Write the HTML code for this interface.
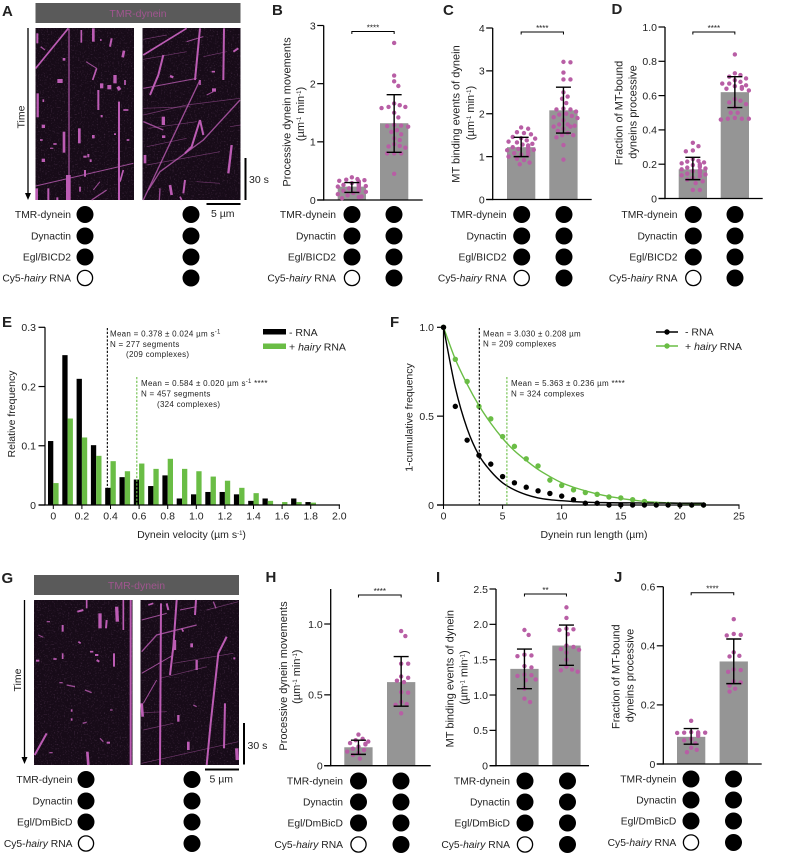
<!DOCTYPE html>
<html lang="en">
<head>
<meta charset="utf-8">
<title>Dynein motility figure</title>
<style>
html,body{margin:0;padding:0;background:#fff;width:799px;height:853px;overflow:hidden}
svg{display:block;font-family:"Liberation Sans",Arial,sans-serif;fill:#222}
text{fill:#222}
</style>
</head>
<body>
<svg id="fig" xmlns="http://www.w3.org/2000/svg" width="799" height="853" viewBox="0 0 799 853">
  <defs>
    <filter id="speck" x="0" y="0" width="100%" height="100%">
      <feTurbulence type="fractalNoise" baseFrequency="0.7" numOctaves="1" seed="4"/>
      <feColorMatrix type="matrix" values="0 0 0 0 0.45  0 0 0 0 0.2  0 0 0 0 0.45  0 0 0 0.9 -0.5"/>
    </filter>
    <filter id="soft" x="-2%" y="-2%" width="104%" height="104%">
      <feGaussianBlur stdDeviation="1.1"/>
    </filter>
  </defs>
  <g font-size="15" font-weight="bold">
    <text x="2" y="16">A</text>
    <text x="272" y="15">B</text>
    <text x="443" y="15">C</text>
    <text x="611.5" y="14">D</text>
    <text x="2" y="327">E</text>
    <text x="390" y="327">F</text>
    <text x="1.5" y="583">G</text>
    <text x="265.5" y="582">H</text>
    <text x="436" y="582">I</text>
    <text x="614" y="582">J</text>
  </g>

  <g>
    <rect x="35.5" y="3" width="205" height="20" fill="#5a5a5a"/>
    <text x="138" y="17" font-size="10.5" text-anchor="middle" style="fill:#a0558f">TMR-dynein</text>
    <rect x="35.5" y="28" width="98.5" height="172" fill="#170b18"/>
    <rect x="142.5" y="28" width="98" height="172" fill="#170b18"/>
    <rect x="35.5" y="28" width="98.5" height="172" filter="url(#speck)"/>
    <rect x="142.5" y="28" width="98" height="172" filter="url(#speck)"/>
    <g id="kymoA" transform="scale(0.33333)" filter="url(#soft)"></g>
    <line x1="28" y1="28" x2="28" y2="194" stroke="#000" stroke-width="1.3"/>
    <path d="M25 193h6l-3 7z" fill="#000"/>
    <text transform="translate(24.5,117) rotate(-90)" font-size="10.5" text-anchor="middle">Time</text>
    <line x1="245.5" y1="158" x2="245.5" y2="200" stroke="#000" stroke-width="2"/>
    <text x="249" y="183" font-size="10.5">30 s</text>
    <line x1="206.5" y1="204" x2="240.5" y2="204" stroke="#000" stroke-width="2"/>
    <text x="211" y="217" font-size="10.5">5 µm</text>
  </g>

  <g>
    <rect x="34" y="575" width="205" height="20" fill="#5a5a5a"/>
    <text x="136.5" y="589" font-size="10.5" text-anchor="middle" style="fill:#a0558f">TMR-dynein</text>
    <rect x="34" y="600" width="98.5" height="165" fill="#170b18"/>
    <rect x="140.5" y="600" width="98.5" height="165" fill="#170b18"/>
    <rect x="34" y="600" width="98.5" height="165" filter="url(#speck)"/>
    <rect x="140.5" y="600" width="98.5" height="165" filter="url(#speck)"/>
    <g id="kymoG" transform="translate(0,560) scale(0.33333)" filter="url(#soft)"></g>
    <line x1="24.5" y1="600" x2="24.5" y2="758" stroke="#000" stroke-width="1.3"/>
    <path d="M21.5 757h6l-3 7z" fill="#000"/>
    <text transform="translate(21,680) rotate(-90)" font-size="10.5" text-anchor="middle">Time</text>
    <line x1="244" y1="723" x2="244" y2="764.5" stroke="#000" stroke-width="2"/>
    <text x="247.5" y="749" font-size="10.5">30 s</text>
    <line x1="205" y1="769.5" x2="239" y2="769.5" stroke="#000" stroke-width="2"/>
    <text x="209.5" y="782.5" font-size="10.5">5 µm</text>
  </g>
  <g id="charts"></g>
</svg>

<script>
// ---- Panel B data ----
const bTicks = [0, 1, 2, 3];
const bMeans = [0.23, 1.32];
const bErrLow = [0.13, 0.82];
const bErrHigh = [0.30, 1.81];
const bDotsNoRna = [0.39,0.36,0.35,0.34,0.33,0.32,0.31,0.30,0.29,0.28,0.27,0.26,0.25,0.24,0.23,0.22,0.21,0.20,0.20,0.18,0.17,0.16,0.15,0.14,0.12,0.10,0.08,0.06,0.05,0.03];
const bDotsRna = [2.70,2.14,2.04,1.96,1.66,1.63,1.60,1.60,1.58,1.50,1.42,1.29,1.28,1.27,1.26,1.20,1.17,1.13,1.06,1.03,0.96,0.93,0.92,0.90,0.80,0.80,0.80,0.45];
const bSig = "****";
// ---- Panel C data ----
const cTicks = [0, 1, 2, 3, 4];
const cMeans = [1.22, 2.08];
const cErrLow = [1.00, 1.55];
const cErrHigh = [1.45, 2.62];
const cDotsNoRna = [1.68,1.65,1.57,1.55,1.52,1.46,1.43,1.42,1.38,1.35,1.33,1.30,1.28,1.26,1.25,1.22,1.20,1.20,1.18,1.16,1.15,1.12,1.10,1.08,1.05,1.03,1.00,0.95,0.92,0.86,0.82];
const cDotsRna = [3.21,3.20,2.96,2.80,2.80,2.50,2.40,2.35,2.25,2.12,2.10,2.10,2.05,2.00,1.98,1.95,1.92,1.90,1.85,1.75,1.75,1.72,1.70,1.70,1.65,1.60,1.55,1.50,1.50,1.45,1.27,0.93];
const cSig = "****";
// ---- Panel D data ----
const dTicks = [0, 0.2, 0.4, 0.6, 0.8, 1.0];
const dMeans = [0.17, 0.62];
const dErrLow = [0.11, 0.53];
const dErrHigh = [0.24, 0.71];
const dDotsNoRna = [0.325,0.305,0.28,0.275,0.23,0.22,0.215,0.21,0.205,0.20,0.195,0.19,0.185,0.18,0.175,0.17,0.165,0.16,0.155,0.15,0.145,0.14,0.135,0.13,0.12,0.11,0.10,0.09,0.05,0.05];
const dDotsRna = [0.84,0.73,0.72,0.71,0.70,0.69,0.68,0.67,0.67,0.66,0.655,0.65,0.64,0.64,0.63,0.58,0.57,0.56,0.55,0.53,0.50,0.50,0.47,0.465,0.465,0.465,0.46];
const dSig = "****";
// ---- Panel H data ----
const hTicks = [0, 0.5, 1.0];
const hMeans = [0.13, 0.59];
const hErrLow = [0.08, 0.42];
const hErrHigh = [0.18, 0.77];
const hDotsNoRna = [0.22,0.19,0.18,0.17,0.16,0.155,0.15,0.135,0.12,0.11,0.10,0.09,0.075,0.05];
const hDotsRna = [0.95,0.915,0.72,0.72,0.63,0.62,0.60,0.59,0.52,0.515,0.45,0.435,0.43,0.37];
const hSig = "****";
// ---- Panel I data ----
const iTicks = [0, 0.5, 1.0, 1.5, 2.0, 2.5];
const iMeans = [1.37, 1.70];
const iErrLow = [1.09, 1.42];
const iErrHigh = [1.65, 1.99];
const iDotsNoRna = [1.92,1.85,1.57,1.56,1.55,1.41,1.39,1.29,1.28,1.27,1.22,1.21,1.09,0.95,0.90];
const iDotsRna = [2.24,2.09,1.94,1.93,1.92,1.86,1.70,1.68,1.65,1.64,1.60,1.50,1.40,1.36,1.35,1.33];
const iSig = "**";
// ---- Panel J data ----
const jTicks = [0, 0.2, 0.4, 0.6];
const jMeans = [0.092, 0.347];
const jErrLow = [0.067, 0.272];
const jErrHigh = [0.12, 0.423];
const jDotsNoRna = [0.146,0.108,0.107,0.106,0.106,0.105,0.104,0.10,0.095,0.085,0.08,0.07,0.055,0.048,0.04];
const jDotsRna = [0.49,0.44,0.437,0.435,0.378,0.366,0.364,0.32,0.318,0.312,0.28,0.276,0.265,0.255,0.245];
const jSig = "****";
// ---- Panel E data ----
const eBins = [0,0.1,0.2,0.3,0.4,0.5,0.6,0.7,0.8,0.9,1.0,1.1,1.2,1.3,1.4,1.5,1.6,1.7,1.8,1.9];
const eNoRna = [0.108,0.253,0.213,0.101,0.029,0.047,0.043,0.032,0.050,0.011,0.018,0.022,0.022,0.018,0.007,0.011,0,0.011,0.005,0];
const eHairyRna = [0.037,0.146,0.114,0.083,0.074,0.057,0.070,0.061,0.078,0.061,0.057,0.048,0.041,0.029,0.020,0.007,0.005,0.005,0.004,0];
const eXTicks = [0,0.2,0.4,0.6,0.8,1.0,1.2,1.4,1.6,1.8,2.0];
const eXTickLabels = ["0","0.2","0.4","0.6","0.8","1.0","1.2","1.4","1.6","1.8","2.0"];
const eYTicks = [0,0.1,0.2,0.3];
const eYTickLabels = ["0","0.1","0.2","0.3"];
const eMeans = [0.378, 0.584];
// ---- Panel F data ----
const fLengths = [0,1,2,3,4,5,6,7,8,9,10,11,12,13,14,15,16,17,18,19,20,21,22];
const fNoRna = [1,0.555,0.365,0.28,0.23,0.16,0.125,0.10,0.08,0.065,0.05,0.03,0.01,0.01,0,0,0,0,0,0,0,0,0];
const fHairyRna = [1,0.82,0.695,0.555,0.485,0.385,0.33,0.26,0.22,0.14,0.11,0.085,0.07,0.06,0.045,0.04,0.03,0.02,0.005,0.003,0,0,0];
const fFitNoRna = [1,0.66,0.43,0.28,0.19,0.125,0.085,0.058,0.04,0.03,0.024,0.019,0.016,0.014,0.013,0.012,0.012,0.011,0.011,0.011,0.01,0.01,0.01];
const fFitHairyRna = [1,0.82,0.68,0.56,0.46,0.375,0.305,0.25,0.2,0.16,0.125,0.1,0.08,0.062,0.048,0.037,0.028,0.02,0.015,0.012,0.009,0.007,0.006];
const fXTicks = [0,5,10,15,20,25];
const fYTicks = [0,0.5,1.0];
const fYTickLabels = ["0","0.5","1.0"];
const fMeans = [3.03, 5.363];

const NS = "http://www.w3.org/2000/svg";
const chartsRoot = document.getElementById("charts");
const DOT = "#b85ea5", BAR = "#959595", GREEN = "#6abd45";

function mk(tag, attrs, parent) {
  const e = document.createElementNS(NS, tag);
  for (const k in attrs) e.setAttribute(k, attrs[k]);
  parent.appendChild(e);
  return e;
}
function label(parent, x, y, str, size, anchor, extra) {
  const t = mk("text", Object.assign({x: x, y: y, "font-size": size, "text-anchor": anchor || "start"}, extra || {}), parent);
  t.innerHTML = str;
  return t;
}
const SUP = function (s) { return '<tspan dy="-3" font-size="6">' + s + '</tspan><tspan dy="3">\u200b</tspan>'; };
const CY5 = 'Cy5-<tspan font-style="italic">hairy</tspan> RNA';

// Place values on a beeswarm: offsets only come from the value order and collision test.
function swarm(values, yFn, spacing) {
  const placed = [];
  values.slice().sort(function (a, b) { return b - a; }).forEach(function (v) {
    const y = yFn(v);
    let off = 0;
    for (let i = 0; i < 60; i++) {
      off = (i % 2 ? 1 : -1) * Math.ceil(i / 2) * 1.4;
      if (Math.abs(off) > 14) { off = (i % 2 ? 1 : -1) * (i % 14); break; }
      const clash = placed.some(function (p) { return Math.hypot(p.off - off, p.y - y) < spacing; });
      if (!clash) break;
    }
    placed.push({off: off, y: y});
  });
  return placed;
}

function conditionRows(parent, cfg) {
  const g = mk("g", {}, parent);
  
  
  const names = ["TMR-dynein", "Dynactin", cfg.adaptor, CY5];
  names.forEach(function (n, r) {
    const y = cfg.rows[r];
    const t = label(g, cfg.right, y + 3.6, n, 10.3, "end");
    
    
    cfg.xs.forEach(function (cx, c) {
      const open = r === 3 && c === 0;
      const circle = mk("circle", {cx: cx, cy: y, r: open ? 7.6 : 8.5, fill: open ? "#fff" : "#000", stroke: "#000", "stroke-width": open ? 1.3 : 0}, g);
      
      
    });
  });
}

function barPanel(cfg) {
  const g = mk("g", {}, chartsRoot);
  
  
  const y = function (v) { return cfg.y0 - (v / cfg.yMax) * (cfg.y0 - cfg.yTop); };
  // axes
  const yAxis = mk("line", {x1: cfg.axisX, x2: cfg.axisX, y1: cfg.axisTop !== undefined ? cfg.axisTop : cfg.yTop, y2: cfg.y0 + 0.6, stroke: "#000", "stroke-width": 1.3}, g);
  
  
  cfg.ticks.forEach(function (v) {
    const tick = mk("line", {x1: cfg.axisX - 6.5, x2: cfg.axisX, y1: y(v), y2: y(v), stroke: "#000", "stroke-width": 1.2}, g);
    
    
    const txt = v === 0 ? "0" : (cfg.decimals ? v.toFixed(cfg.decimals) : String(v));
    const tl = label(g, cfg.axisX - 8, y(v) + 3.8, txt, 10.5, "end");
    
    
  });
  // bars
  cfg.means.forEach(function (m, i) {
    const bar = mk("rect", {x: cfg.barX[i], y: y(m), width: 28.3, height: cfg.y0 - y(m), fill: BAR}, g);
    
    
  });
  const xAxis = mk("line", {x1: cfg.axisX - 6.5, x2: cfg.axisEnd, y1: cfg.y0, y2: cfg.y0, stroke: "#000", "stroke-width": 1.3}, g);
  
  
  // dots
  [cfg.dots0, cfg.dots1].forEach(function (vals, i) {
    const cx = cfg.barX[i] + 14.15;
    swarm(vals, y, cfg.spacing || 5.8).forEach(function (p) {
      const dot = mk("circle", {cx: cx + p.off, cy: p.y, r: 2.2, fill: DOT}, g);
      
      
    });
  });
  // error bars
  cfg.means.forEach(function (m, i) {
    const cx = cfg.barX[i] + 14.15;
    const path = "M" + (cx - 7.5) + " " + y(cfg.high[i]) + "h15M" + cx + " " + y(cfg.high[i]) + "V" + y(cfg.low[i]) + "M" + (cx - 7.5) + " " + y(cfg.low[i]) + "h15";
    const err = mk("path", {d: path, fill: "none", stroke: "#000", "stroke-width": 1.4}, g);
    
    
  });
  // significance bracket
  const b0 = cfg.barX[0] + 14.15, b1 = cfg.barX[1] + 14.15;
  const br = mk("path", {d: "M" + b0 + " " + (cfg.brY + 2.5) + "V" + cfg.brY + "H" + b1 + "V" + (cfg.brY + 2.5), fill: "none", stroke: "#000", "stroke-width": 1}, g);
  
  
  const st = label(g, (b0 + b1) / 2, cfg.brY - 1.2, cfg.sig, 8, "middle");
  
  
  // titles
  cfg.titles.forEach(function (t) {
    const a = label(g, 0, 0, t[3], 11, "middle", {transform: "translate(" + t[0] + "," + t[1] + ") rotate(-90)"});
    
    
  });
  conditionRows(g, cfg.cond);
}

const rowsTop = [214.5, 236, 257, 278];
const unitsLine = '(µm' + SUP('-1') + ' min' + SUP('-1') + ')';

barPanel({name: "panel-b-processive-movements", axisX: 323.7, axisEnd: 422.7, y0: 200, yTop: 25.5, yMax: 3, ticks: bTicks, barX: [337.7, 380], means: bMeans, low: bErrLow, high: bErrHigh, dots0: bDotsNoRna, dots1: bDotsRna, brY: 31.5, sig: bSig,
  titles: [[290.5, 112, "y-axis-title", "Processive dynein movements"], [304, 114, "y-axis-units", unitsLine]],
  cond: {adaptor: "Egl/BICD2", rows: rowsTop, right: 336, xs: [352, 394]}});
barPanel({name: "panel-c-binding-events", axisX: 492.7, axisEnd: 591.7, y0: 199.5, yTop: 28, yMax: 4, ticks: cTicks, barX: [507, 549.3], means: cMeans, low: cErrLow, high: cErrHigh, dots0: cDotsNoRna, dots1: cDotsRna, brY: 32, sig: cSig,
  titles: [[459.5, 114, "y-axis-title", "MT binding events of dynein"], [474, 113, "y-axis-units", unitsLine]],
  cond: {adaptor: "Egl/BICD2", rows: rowsTop, right: 506.6, xs: [521.7, 564]}});
barPanel({name: "panel-d-fraction-processive", axisX: 665, axisEnd: 762.7, y0: 198.5, yTop: 27, yMax: 1, ticks: dTicks, decimals: 1, barX: [678.7, 720.7], means: dMeans, low: dErrLow, high: dErrHigh, dots0: dDotsNoRna, dots1: dDotsRna, brY: 32, sig: dSig,
  titles: [[622.3, 113, "y-axis-title", "Fraction of MT-bound"], [636.7, 112, "y-axis-title-line-2", "dyneins processive"]],
  cond: {adaptor: "Egl/BICD2", rows: rowsTop, right: 677.5, xs: [693.3, 735]}});
barPanel({name: "panel-h-processive-movements", axisX: 330.7, axisTop: 589, axisEnd: 430.7, y0: 765.7, yTop: 624, yMax: 1, ticks: hTicks, decimals: 1, barX: [344.3, 387], means: hMeans, low: hErrLow, high: hErrHigh, dots0: hDotsNoRna, dots1: hDotsRna, brY: 595, sig: hSig,
  titles: [[287, 676, "y-axis-title", "Processive dynein movements"], [300, 676.7, "y-axis-units", unitsLine]],
  cond: {adaptor: "Egl/DmBicD", rows: [781, 802, 823, 844.5], right: 343, xs: [358.5, 401]}});
barPanel({name: "panel-i-binding-events", axisX: 496, axisEnd: 589, y0: 765.7, yTop: 589, yMax: 2.5, ticks: iTicks, decimals: 1, barX: [510.3, 552.3], means: iMeans, low: iErrLow, high: iErrHigh, dots0: iDotsNoRna, dots1: iDotsRna, brY: 594, sig: iSig,
  titles: [[453.7, 678.7, "y-axis-title", "MT binding events of dynein"], [467.3, 677.5, "y-axis-units", unitsLine]],
  cond: {adaptor: "Egl/DmBicD", rows: [781, 802, 823, 844.5], right: 510, xs: [525, 567.5]}});
barPanel({name: "panel-j-fraction-processive", axisX: 663.3, axisEnd: 761.7, y0: 764, yTop: 586.7, yMax: 0.6, ticks: jTicks, decimals: 1, barX: [677, 719.6], means: jMeans, low: jErrLow, high: jErrHigh, dots0: jDotsNoRna, dots1: jDotsRna, brY: 592.7, sig: jSig,
  titles: [[619.7, 676.7, "y-axis-title", "Fraction of MT-bound"], [633.3, 675.5, "y-axis-title-line-2", "dyneins processive"]],
  cond: {adaptor: "Egl/DmBicD", rows: [779, 800, 821, 842.5], right: 676.3, xs: [691, 733.5]}});
conditionRows(chartsRoot, {adaptor: "Egl/BICD2", rows: rowsTop, right: 71, xs: [85, 191]});
conditionRows(chartsRoot, {adaptor: "Egl/DmBicD", rows: [779.5, 801, 822, 843.5], right: 72.5, xs: [86, 192]});

// ---- Panel E ----
(function () {
  const g = mk("g", {}, chartsRoot);
  
  
  const x = function (v) { return 53.3 + v * 143; };
  const y = function (v) { return 505 - (v / 0.3) * 177.7; };
  eBins.forEach(function (b, i) {
    const black = mk("rect", {x: x(b) - 5.3, y: y(eNoRna[i]), width: 5.3, height: 505 - y(eNoRna[i]), fill: "#000"}, g);
    
    
    const green = mk("rect", {x: x(b), y: y(eHairyRna[i]), width: 5.3, height: 505 - y(eHairyRna[i]), fill: GREEN}, g);
    
    
  });
  const ya = mk("line", {x1: 45, x2: 45, y1: 327.3, y2: 505, stroke: "#000", "stroke-width": 1.2}, g);
  
  
  const xa = mk("line", {x1: 38.5, x2: 340, y1: 505, y2: 505, stroke: "#000", "stroke-width": 1.2}, g);
  
  
  eYTicks.forEach(function (v, i) {
    const t = mk("line", {x1: 38.5, x2: 45, y1: y(v), y2: y(v), stroke: "#000", "stroke-width": 1.2}, g);
    
    
    const l = label(g, 36, y(v) + 3.8, eYTickLabels[i], 10.5, "end");
    
    
  });
  eXTicks.forEach(function (v, i) {
    const t = mk("line", {x1: x(v), x2: x(v), y1: 505, y2: 509, stroke: "#000", "stroke-width": 1}, g);
    
    
    const l = label(g, x(v), 519.5, eXTickLabels[i], 10.5, "middle");
    
    
  });
  const yt = label(g, 0, 0, "Relative frequency", 10.5, "middle", {transform: "translate(15,414) rotate(-90)"});
  
  
  const xt = label(g, 191.5, 538, "Dynein velocity (µm s" + SUP("-1") + ")", 10.5, "middle");
  
  
  const m0 = mk("line", {x1: x(eMeans[0]), x2: x(eMeans[0]), y1: 328, y2: 505, stroke: "#000", "stroke-width": 1.1, "stroke-dasharray": "2.2 1.6"}, g);
  
  
  const m1 = mk("line", {x1: x(eMeans[1]), x2: x(eMeans[1]), y1: 377, y2: 505, stroke: GREEN, "stroke-width": 1.1, "stroke-dasharray": "2.2 1.6"}, g);
  
  
  const notes = [
    [110, 336.5, "Mean = 0.378 ± 0.024 µm s" + SUP("-1")],
    [110, 347, "N = 277 segments"],
    [126, 357, "(209 complexes)"],
    [141, 386, "Mean = 0.584 ± 0.020 µm s" + SUP("-1") + " ****"],
    [141, 396.5, "N = 457 segments"],
    [157, 407, "(324 complexes)"]
  ];
  notes.forEach(function (n) {
    const t = label(g, n[0], n[1], n[2], 8, "start", {"letter-spacing": "0.28"});
    
    
  });
  const k0 = mk("rect", {x: 263, y: 329, width: 23, height: 5.5, fill: "#000"}, g);
  
  
  const k1 = mk("rect", {x: 263, y: 343.5, width: 23, height: 5.5, fill: GREEN}, g);
  
  
  const lt0 = label(g, 289, 336, "- RNA", 10.5);
  
  
  const lt1 = label(g, 289, 350.5, '+ <tspan font-style="italic">hairy</tspan> RNA', 10.5);
  
  
})();

// ---- Panel F ----
(function () {
  const g = mk("g", {}, chartsRoot);
  
  
  const x = function (v) { return 443.5 + v * 11.82; };
  const y = function (v) { return 505 - v * 177.7; };
  function smooth(vals) {
    const pts = fLengths.map(function (l, i) { return [x(l), y(vals[i])]; });
    let d = "M" + pts[0][0] + " " + pts[0][1];
    for (let i = 0; i < pts.length - 1; i++) {
      const p0 = pts[Math.max(0, i - 1)], p1 = pts[i], p2 = pts[i + 1], p3 = pts[Math.min(pts.length - 1, i + 2)];
      d += "C" + (p1[0] + (p2[0] - p0[0]) / 6) + " " + (p1[1] + (p2[1] - p0[1]) / 6) + " " + (p2[0] - (p3[0] - p1[0]) / 6) + " " + (p2[1] - (p3[1] - p1[1]) / 6) + " " + p2[0] + " " + p2[1];
    }
    return d;
  }
  const c1 = mk("path", {d: smooth(fFitHairyRna), fill: "none", stroke: GREEN, "stroke-width": 1.4}, g);
  
  
  const c0 = mk("path", {d: smooth(fFitNoRna), fill: "none", stroke: "#000", "stroke-width": 1.4}, g);
  
  
  const ya = mk("line", {x1: 443.5, x2: 443.5, y1: 327.3, y2: 505, stroke: "#000", "stroke-width": 1.2}, g);
  
  
  const xa = mk("line", {x1: 437, x2: 739.5, y1: 505, y2: 505, stroke: "#000", "stroke-width": 1.2}, g);
  
  
  fYTicks.forEach(function (v, i) {
    const t = mk("line", {x1: 437, x2: 443.5, y1: y(v), y2: y(v), stroke: "#000", "stroke-width": 1.2}, g);
    
    
    const l = label(g, 434, y(v) + 3.8, fYTickLabels[i], 10.5, "end");
    
    
  });
  fXTicks.forEach(function (v) {
    const t = mk("line", {x1: x(v), x2: x(v), y1: 505, y2: 509, stroke: "#000", "stroke-width": 1}, g);
    
    
    const l = label(g, x(v), 519.5, String(v), 10.5, "middle");
    
    
  });
  fLengths.forEach(function (l, i) {
    const pg = mk("circle", {cx: x(l), cy: y(fHairyRna[i]), r: 2.7, fill: GREEN}, g);
    
    
  });
  fLengths.forEach(function (l, i) {
    const pk = mk("circle", {cx: x(l), cy: y(fNoRna[i]), r: 2.7, fill: "#000"}, g);
    
    
  });
  const yt = label(g, 0, 0, "1-cumulative frequency", 10.5, "middle", {transform: "translate(412.5,417.5) rotate(-90)"});
  
  
  const xt = label(g, 594, 538, "Dynein run length (µm)", 10.5, "middle");
  
  
  const m0 = mk("line", {x1: x(fMeans[0]), x2: x(fMeans[0]), y1: 328, y2: 505, stroke: "#000", "stroke-width": 1.1, "stroke-dasharray": "2.2 1.6"}, g);
  
  
  const m1 = mk("line", {x1: x(fMeans[1]), x2: x(fMeans[1]), y1: 377, y2: 505, stroke: GREEN, "stroke-width": 1.1, "stroke-dasharray": "2.2 1.6"}, g);
  
  
  const notes = [
    [483, 336.5, "Mean = 3.030 ± 0.208 µm"],
    [483, 346.5, "N = 209 complexes"],
    [511, 386, "Mean = 5.363 ± 0.236 µm ****"],
    [511, 396.5, "N = 324 complexes"]
  ];
  notes.forEach(function (n) {
    const t = label(g, n[0], n[1], n[2], 8, "start", {"letter-spacing": "0.28"});
    
    
  });
  const l0 = mk("line", {x1: 656, x2: 678, y1: 332, y2: 332, stroke: "#000", "stroke-width": 1.4}, g);
  
  
  const d0 = mk("circle", {cx: 667, cy: 332, r: 2.7, fill: "#000"}, g);
  
  
  const l1 = mk("line", {x1: 656, x2: 678, y1: 346, y2: 346, stroke: GREEN, "stroke-width": 1.4}, g);
  
  
  const d1 = mk("circle", {cx: 667, cy: 346, r: 2.7, fill: GREEN}, g);
  
  
  const lt0 = label(g, 685, 335.5, "- RNA", 10.5);
  
  
  const lt1 = label(g, 685, 350, '+ <tspan font-style="italic">hairy</tspan> RNA', 10.5);
  
  
})();

const kymoAStreaks = [
 [5,107,205,205,85],[4,207,85,207,525],[14,205,525,205,600],[6,357,305,357,600],[3,107,558,400,490],[7,113,280,113,352],
 [8,192,395,192,458],[6,295,270,295,330],[8,238,385,238,430],[8,280,85,280,125],[5,244,90,244,128],[10,345,225,345,250],
 [12,328,255,328,268],[10,305,250,305,265],[10,353,260,360,270],[12,172,243,188,243],[10,130,374,130,384],[10,130,476,130,486],
 [6,112,100,112,130],[6,335,115,330,140],[8,372,152,368,172],[5,290,205,278,240],[3,258,185,290,205],[6,145,565,145,600],
 [8,110,565,110,600],[4,275,600,320,570],[5,370,510,360,545],[6,255,510,255,530],[8,280,405,280,415],[6,265,462,265,472],
 [6,272,478,272,486],[3,300,545,280,570],[5,160,432,170,432],[4,122,140,135,150],[5,300,120,305,120],[6,345,400,345,405],
 [4,150,445,160,445],[5,130,298,130,306],[5,240,560,240,575],[6,305,345,305,352],[5,375,240,375,255],[8,188,178,196,178],
 [5,380,420,388,420],[5,370,330,385,330],[6,172,592,172,600],[6,250,470,260,470],[5,120,420,128,420]
];
const kymoARightStreaks = [
 [5,430,165,560,85],[6,585,240,600,85],[6,670,240,672,85],[4,430,600,510,430,600,240],[4,445,570,480,515,610,420,720,300],
 [2,430,345,560,315,720,295],[2,430,325,570,320],[3,430,265,590,235],[7,685,520,695,435],[6,600,360,575,440,555,460],[6,600,360,610,405],
 [6,490,165,475,225,450,285],[8,435,465,435,490],[4,430,365,490,390],[10,490,350,490,375],[2,430,178,560,155],[2,440,440,560,415],
 [2,440,495,660,455],[8,510,555,515,585],[6,555,540,550,580],[4,480,565,478,600],[6,700,155,715,145],[10,636,270,648,270],
 [8,486,410,496,410],[5,540,590,545,600],[7,510,228,520,232],[3,560,125,610,110],[2,610,170,680,155],[2,590,545,660,550],
 [5,635,215,645,215],[3,620,285,640,275],[2,430,118,500,105],[2,690,380,722,375],[2,445,385,590,365],[5,600,240,600,255]
];
const kymoGStreaks = [
 [6,104,585,140,520],[6,392,120,392,615],[5,370,120,370,210],[5,260,120,260,145],[8,262,575,265,615],[10,300,160,300,205],
 [10,350,140,352,185],[6,320,180,318,205],[6,342,280,342,320],[6,188,195,188,215],[5,188,280,188,297],[6,232,155,250,150],
 [6,108,302,118,302],[5,160,297,170,297],[5,235,245,242,250],[5,270,275,280,275],[5,215,448,215,455],[5,215,475,215,482],
 [4,200,375,225,380],[4,255,390,275,398],[4,300,535,310,545],[6,320,548,330,548],[4,248,490,260,487],[4,148,578,158,578],
 [4,140,185,150,185],[6,285,285,295,285],[6,290,300,298,305],[4,330,450,338,450],[4,178,368,188,368],[3,115,225,130,232]
];
const kymoGRightStreaks = [
 [6,483,130,480,615],[4,425,275,470,225,590,195],[6,530,120,520,260,510,345],[6,620,615,632,490,655,280,680,230],[6,675,430,672,565],
 [3,425,340,520,285],[2,425,610,715,545],[3,430,430,470,360],[7,590,300,590,330],[7,535,465,535,485],[8,565,545,565,570],
 [10,710,565,712,600],[8,425,430,428,470],[3,425,180,500,160],[3,540,150,590,140],[2,520,310,700,280],[2,430,510,520,490],
 [2,480,355,620,320],[5,445,135,460,130],[6,500,130,505,150],[8,575,250,575,262],[6,700,295,706,295],[5,545,205,550,215],
 [2,620,150,715,125],[6,588,120,585,165],[4,640,125,648,145],[7,525,240,525,270],[4,580,435,590,440],[2,425,458,500,455]
];
function drawKymo(id, list) {
  const parent = document.getElementById(id);
  list.forEach(function (s) {
    const pts = s.slice(1).join(" ");
    const line = mk("polyline", {points: pts, fill: "none", stroke: "#bc5cb4", "stroke-opacity": s[0] <= 2 ? 0.55 : (s[0] <= 4 ? 0.8 : 1), "stroke-width": s[0]}, parent);
    
    
  });
}
drawKymo("kymoA", kymoAStreaks);
drawKymo("kymoA", kymoARightStreaks);
drawKymo("kymoG", kymoGStreaks);
drawKymo("kymoG", kymoGRightStreaks);
</script>
</body>
</html>
